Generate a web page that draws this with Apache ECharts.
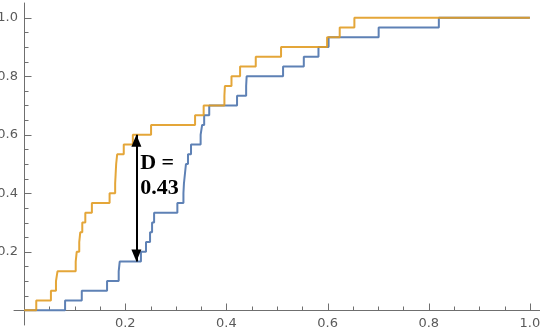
<!DOCTYPE html>
<html>
<head>
<meta charset="utf-8">
<script src="https://cdn.jsdelivr.net/npm/echarts@6/dist/echarts.min.js"></script>
<style>
  html, body { margin: 0; padding: 0; background: #ffffff; }
  #chart { width: 540px; height: 332px; }
</style>
</head>
<body>
<div id="chart"></div>
<script>
// Sorted observations of the two samples (n = 30 each)
const sampleBlue = [
  0.081, 0.114, 0.164, 0.187, 0.189, 0.231, 0.241, 0.249, 0.253, 0.257,
  0.303, 0.315, 0.316, 0.318, 0.320, 0.324, 0.330, 0.349, 0.352, 0.356,
  0.366, 0.421, 0.439, 0.440, 0.512, 0.553, 0.582, 0.602, 0.701, 0.820
];
const sampleOrange = [
  0.024, 0.053, 0.063, 0.066, 0.102, 0.104, 0.109, 0.111, 0.115, 0.121,
  0.134, 0.169, 0.180, 0.181, 0.182, 0.184, 0.197, 0.215, 0.251, 0.338,
  0.355, 0.396, 0.397, 0.410, 0.427, 0.458, 0.508, 0.599, 0.624, 0.653
];

const majorTicks = [0.2, 0.4, 0.6, 0.8, 1.0];
const minorTicks = [0.05, 0.1, 0.15, 0.25, 0.3, 0.35, 0.45, 0.5, 0.55,
                    0.65, 0.7, 0.75, 0.85, 0.9, 0.95];

// Where the separation arrow is drawn
const arrowX = 0.222;

// Empirical CDF as step points: (x_i, i/n), closed at 0 and 1
function ecdfPoints(sample) {
  const n = sample.length;
  const pts = [[0, 0]];
  sample.forEach((x, i) => pts.push([x, (i + 1) / n]));
  pts.push([1, 1]);
  return pts;
}
function ecdfAt(sample, x) {
  return sample.filter(v => v <= x).length / sample.length;
}

const lowEnd = ecdfAt(sampleBlue, arrowX);
const highEnd = ecdfAt(sampleOrange, arrowX);
const dStat = highEnd - lowEnd;

const axisColor = '#6f6f6f';
const labelColor = '#5a5a5a';
const labelFont = 'DejaVu Sans';

// Tick marks for both axes: [value, axis (0 = x, 1 = y), major flag]
const tickItems = [];
[0, 1].forEach(axis => {
  majorTicks.forEach(v => tickItems.push([v, axis, 1]));
  minorTicks.forEach(v => tickItems.push([v, axis, 0]));
});

function renderTick(params, api) {
  const v = api.value(0);
  const axis = api.value(1);
  const len = api.value(2) ? 7 : 4;
  let x1, y1, x2, y2;
  if (axis === 0) {
    const p = api.coord([v, 0]);
    x1 = p[0]; y1 = p[1]; x2 = p[0]; y2 = p[1] - len;
  } else {
    const p = api.coord([0, v]);
    x1 = p[0]; y1 = p[1]; x2 = p[0] + len; y2 = p[1];
  }
  return {
    type: 'line',
    shape: { x1: Math.round(x1) + 0.5, y1: Math.round(y1) + 0.5,
             x2: Math.round(x2) + 0.5, y2: Math.round(y2) + 0.5 },
    style: { stroke: axisColor, lineWidth: 1 }
  };
}

const chart = echarts.init(document.getElementById('chart'), null, { renderer: 'canvas' });

chart.setOption({
  animation: false,
  backgroundColor: '#ffffff',
  grid: { left: 14, right: 0, top: 3, bottom: 7, outerBoundsMode: 'none' },
  xAxis: {
    type: 'value', min: -0.02, max: 1.02,
    splitLine: { show: false },
    axisLine: { show: true, onZero: true, lineStyle: { color: axisColor, width: 1 } },
    axisTick: { show: false },
    // labels are laid out from the grid's bottom edge, so pull them back up
    axisLabel: { show: true, customValues: majorTicks, margin: -8,
                 color: labelColor, fontFamily: labelFont, fontSize: 13,
                 formatter: v => v.toFixed(1) }
  },
  yAxis: {
    type: 'value', min: -0.05, max: 1.05,
    splitLine: { show: false },
    axisLine: { show: true, onZero: true, lineStyle: { color: axisColor, width: 1 } },
    axisTick: { show: false },
    axisLabel: { show: true, customValues: majorTicks, margin: -4,
                 color: labelColor, fontFamily: labelFont, fontSize: 13,
                 formatter: v => v.toFixed(1) }
  },
  series: [
    {
      name: 'ticks', type: 'custom', silent: true, clip: false,
      data: tickItems, renderItem: renderTick, z: 1
    },
    {
      name: 'blue', type: 'line', step: 'end', showSymbol: false, symbol: 'none',
      data: ecdfPoints(sampleBlue),
      lineStyle: { color: '#5e81b5', width: 2 },
      z: 2
    },
    {
      name: 'orange', type: 'line', step: 'end', showSymbol: false, symbol: 'none',
      data: ecdfPoints(sampleOrange),
      lineStyle: { color: '#e19c24', width: 2, opacity: 0.9 },
      z: 3,
      markLine: {
        silent: true,
        animation: false,
        symbol: ['triangle', 'triangle'],
        symbolSize: [10, 12],
        symbolOffset: [[0, 6], [0, 6]],
        label: { show: false },
        lineStyle: { color: '#000000', width: 2, type: 'solid', opacity: 1 },
        itemStyle: { color: '#000000' },
        data: [[{ coord: [arrowX, highEnd] }, { coord: [arrowX, lowEnd] }]]
      }
    }
  ]
});

// Statistic label beside the arrow
const anchor = chart.convertToPixel({ xAxisIndex: 0, yAxisIndex: 0 }, [arrowX + 0.0075, 0.504]);
chart.setOption({
  graphic: [
    { type: 'text', x: anchor[0], y: anchor[1],
      style: { text: 'D =', fill: '#000', font: 'bold 22px "Liberation Serif"',
               textAlign: 'left', textVerticalAlign: 'middle' } },
    { type: 'text', x: anchor[0], y: anchor[1] + 25,
      style: { text: dStat.toFixed(2), fill: '#000', font: 'bold 22px "Liberation Serif"',
               textAlign: 'left', textVerticalAlign: 'middle' } }
  ]
});
</script>
</body>
</html>
